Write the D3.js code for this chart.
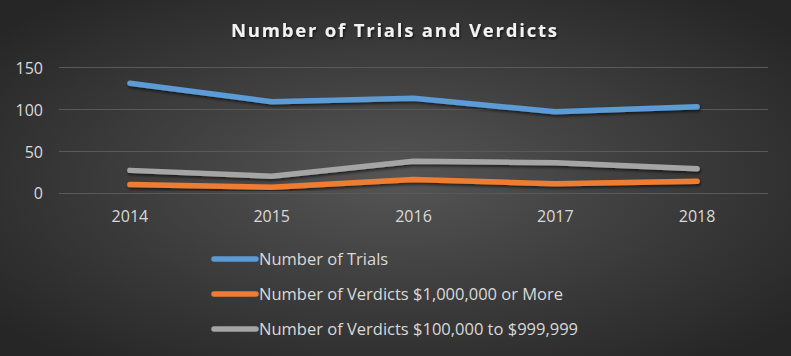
<!DOCTYPE html>
<html><head><meta charset="utf-8">
<script src="https://cdn.jsdelivr.net/npm/d3@7"></script>
<style>
html,body{margin:0;padding:0;background:#333;}
svg{display:block;}
</style></head>
<body>
<script>
const years = ["2014","2015","2016","2017","2018"];
const trials = [131, 109, 113, 97, 103];
const verdictsMillion = [10, 7, 16, 11, 14];
const verdictsHundredK = [27, 20, 38, 36, 29];
const yTicks = [0, 50, 100, 150];
const seriesNames = ["Number of Trials", "Number of Verdicts $1,000,000 or More", "Number of Verdicts $100,000 to $999,999"];
const seriesColors = ["#5b9bd5", "#ed7d31", "#a5a5a5"];
const title = "Number of Trials and Verdicts";

const W = 791, H = 356;
const svg = d3.select("body").append("svg").attr("width", W).attr("height", H);
const defs = svg.append("defs");
const rg = defs.append("radialGradient").attr("id","bg").attr("cx","50%").attr("cy","50%").attr("r","65%");
rg.append("stop").attr("offset","0%").attr("stop-color","#555555");
rg.append("stop").attr("offset","100%").attr("stop-color","#262626");
const sh = defs.append("filter").attr("id","sh").attr("x","-10%").attr("y","-50%").attr("width","120%").attr("height","200%");
sh.append("feDropShadow").attr("dx",1).attr("dy",2).attr("stdDeviation",1.6).attr("flood-color","#000").attr("flood-opacity",0.6);
const tsh = defs.append("filter").attr("id","tsh");
tsh.append("feDropShadow").attr("dx",1).attr("dy",1.5).attr("stdDeviation",1).attr("flood-color","#000").attr("flood-opacity",0.7);

svg.append("rect").attr("width",W).attr("height",H).attr("fill","url(#bg)");

const x = d3.scaleBand().domain(years).range([59, 768]);
const y = d3.scaleLinear().domain([0, 150]).range([193, 67.3]);

const font = "'Open Sans', 'Noto Sans', sans-serif";

// gridlines
svg.append("g").selectAll("line").data(yTicks).join("line")
  .attr("x1", 59).attr("x2", 768)
  .attr("y1", d => Math.round(y(d)) + 0.5).attr("y2", d => Math.round(y(d)) + 0.5)
  .attr("stroke", "#595959").attr("stroke-width", 1.2);

// y axis labels
const yAxis = d3.axisLeft(y).tickValues(yTicks).tickSize(0).tickPadding(0);
const gy = svg.append("g").attr("transform","translate(43,0)").call(yAxis);
gy.select(".domain").remove();
gy.selectAll("text").attr("fill","#d9d9d9").style("font-family",font).style("font-size","16px").attr("dy","0.37em");

// x axis labels
const xAxis = d3.axisBottom(x).tickSize(0).tickPadding(0);
const gx = svg.append("g").attr("transform","translate(0,216.5)").call(xAxis);
gx.select(".domain").remove();
gx.selectAll("text").attr("fill","#d9d9d9").style("font-family",font).style("font-size","16px").attr("dy","0.37em");

// lines
const data = [trials, verdictsMillion, verdictsHundredK];
const line = d3.line().x((d,i) => x(years[i]) + x.bandwidth()/2).y(d => y(d));
const order = [2, 1, 0];
order.forEach(k => {
  svg.append("path").datum(data[k]).attr("d", line)
    .attr("fill","none").attr("stroke", seriesColors[k]).attr("stroke-width", 5.5)
    .attr("stroke-linecap","round").attr("stroke-linejoin","round")
    .attr("filter","url(#sh)");
});

// title
svg.append("text").attr("x", 394).attr("y", 37).attr("text-anchor","middle")
  .attr("fill","#f2f2f2").style("font-family",font).style("font-size","18.5px").style("font-weight","bold")
  .attr("textLength", 326).attr("lengthAdjust","spacing")
  .attr("filter","url(#tsh)").text(title);

// legend
const leg = svg.append("g");
const legY = [259, 294, 329];
seriesNames.forEach((n, i) => {
  leg.append("line").attr("x1", 214).attr("x2", 256).attr("y1", legY[i]).attr("y2", legY[i])
    .attr("stroke", seriesColors[i]).attr("stroke-width", 5.5).attr("stroke-linecap","round");
  leg.append("text").attr("x", 259).attr("y", legY[i]).attr("dy","0.37em")
    .attr("fill","#d9d9d9").style("font-family",font).style("font-size","16.5px").text(n);
});
</script>
</body></html>
